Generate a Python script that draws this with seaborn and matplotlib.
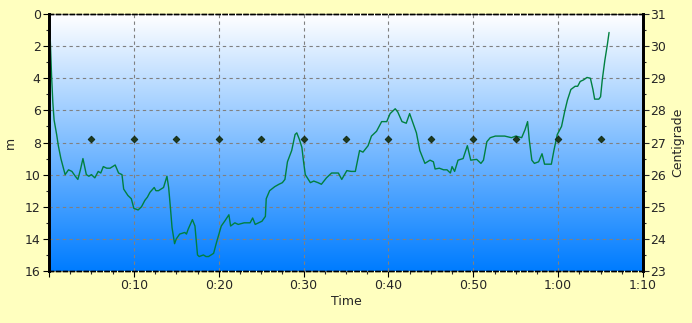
import numpy as np
import pandas as pd
import matplotlib
matplotlib.use("Agg")
import matplotlib.pyplot as plt
import seaborn as sns
from matplotlib.ticker import MultipleLocator

# ---- data ----
time_min = [0.0, 0.15, 0.3, 0.45, 0.6, 0.9, 1.1, 1.4, 1.9, 2.3, 2.7, 3.1, 3.4, 3.7, 4.0, 4.2, 4.4, 4.7,
            5.0, 5.4, 5.8, 6.1, 6.4, 6.8, 7.2, 7.5, 7.8, 8.2, 8.6, 8.8, 9.3, 9.7, 10.0, 10.5, 10.9, 11.3,
            11.6, 11.9, 12.4, 12.6, 12.9, 13.2, 13.5, 13.9, 14.1, 14.3, 14.5, 14.8, 15.0, 15.4, 16.0, 16.2,
            16.4, 16.9, 17.2, 17.5, 17.7, 18.2, 18.5, 18.8, 19.4, 19.7, 20.3, 20.7, 21.2, 21.4, 21.9, 22.3,
            23.0, 23.7, 24.0, 24.3, 25.1, 25.5, 25.6, 26.0, 26.6, 27.1, 27.5, 27.8, 28.1, 28.6, 29.0, 29.2,
            29.5, 29.8, 30.0, 30.2, 30.8, 31.2, 31.7, 32.1, 32.7, 33.3, 34.1, 34.5, 35.1, 35.6, 36.1, 36.6,
            37.0, 37.6, 38.0, 38.6, 39.2, 39.8, 40.2, 40.8, 41.1, 41.6, 42.1, 42.5, 42.9, 43.3, 43.7, 44.3,
            44.9, 45.3, 45.5, 46.0, 46.5, 46.9, 47.3, 47.5, 47.8, 48.2, 48.8, 49.3, 49.7, 50.4, 50.9, 51.2,
            51.6, 52.0, 52.6, 53.7, 54.5, 55.0, 55.7, 56.1, 56.4, 56.6, 56.9, 57.2, 57.7, 58.1, 58.4, 59.2,
            59.5, 59.9, 60.4, 60.8, 61.1, 61.5, 62.0, 62.3, 62.6, 63.0, 63.4, 63.8, 64.1, 64.3, 64.8, 65.0,
            65.2, 65.5, 65.8, 66.0]
depth_m = [1.5, 1.6, 3.8, 5.5, 6.6, 7.5, 8.2, 9.0, 10.0, 9.7, 9.8, 10.1, 10.3, 9.7, 9.0, 9.5, 10.0, 10.1,
           10.0, 10.2, 9.8, 9.9, 9.5, 9.6, 9.6, 9.5, 9.4, 9.9, 10.0, 10.9, 11.3, 11.5, 12.1, 12.2, 12.0, 11.6,
           11.4, 11.1, 10.8, 11.0, 11.0, 10.9, 10.8, 10.1, 10.8, 12.0, 13.3, 14.3, 14.0, 13.7, 13.6, 13.7,
           13.4, 12.8, 13.2, 15.0, 15.1, 15.0, 15.1, 15.1, 14.9, 14.3, 13.2, 12.9, 12.5, 13.2, 13.0, 13.1,
           13.0, 13.0, 12.7, 13.1, 12.9, 12.6, 11.5, 11.0, 10.75, 10.6, 10.5, 10.3, 9.2, 8.5, 7.5, 7.4,
           7.8, 8.3, 9.2, 10.0, 10.5, 10.4, 10.5, 10.6, 10.2, 9.9, 9.9, 10.3, 9.75, 9.8, 9.8, 8.5,
           8.6, 8.2, 7.6, 7.3, 6.7, 6.7, 6.2, 5.9, 6.1, 6.7, 6.8, 6.2, 6.8, 7.4, 8.5, 9.3,
           9.1, 9.2, 9.65, 9.6, 9.7, 9.7, 9.9, 9.5, 9.8, 9.1, 9.0, 8.2, 9.1, 9.05, 9.3, 9.1,
           7.95, 7.7, 7.6, 7.6, 7.7, 7.6, 7.7, 7.2, 6.7, 7.85, 9.1, 9.3, 9.2, 8.7, 9.35, 9.35,
           8.5, 7.5, 7.0, 6.0, 5.35, 4.7, 4.5, 4.5, 4.2, 4.1, 3.95, 4.0, 4.7, 5.3, 5.3, 5.15,
           4.1, 2.9, 1.9, 1.15]
temp_time_min = [5, 10, 15, 20, 25, 30, 35, 40, 45, 50, 55, 60, 65]
temp_c = [27.1, 27.1, 27.1, 27.1, 27.1, 27.1, 27.1, 27.1, 27.1, 27.1, 27.1, 27.1, 27.1]
x_ticks = [0, 10, 20, 30, 40, 50, 60, 70]
x_tick_labels = ["", "0:10", "0:20", "0:30", "0:40", "0:50", "1:00", "1:10"]
depth_ticks = [0, 2, 4, 6, 8, 10, 12, 14, 16]
temp_ticks = [23, 24, 25, 26, 27, 28, 29, 30, 31]

depth_df = pd.DataFrame({"time": time_min, "depth": depth_m})
temp_df = pd.DataFrame({"time": temp_time_min, "temp": temp_c})

sns.set_style("white")
plt.rcParams["font.family"] = ["DejaVu Sans"]
bg = "#FFFFBF"

fig = plt.figure(figsize=(6.92, 3.23), dpi=100, facecolor=bg)
ax = fig.add_axes([49 / 692, 1 - 271 / 323, (643 - 49) / 692, (271 - 14) / 323])

# gradient background
grad = np.linspace(0, 1, 256).reshape(-1, 1)
cmap = matplotlib.colors.LinearSegmentedColormap.from_list("g", ["#FFFFFF", "#007CFF"])
ax.imshow(grad, extent=[0, 70, 16, 0], aspect="auto", cmap=cmap, zorder=0, interpolation="bilinear")

sns.lineplot(data=depth_df, x="time", y="depth", ax=ax, color="#008040", linewidth=1.0,
             sort=False, estimator=None, zorder=3)
ax.set_xlim(0, 70)
ax.set_ylim(16, 0)
ax.set_xticks(x_ticks)
ax.set_xticklabels(x_tick_labels)
ax.set_yticks(depth_ticks)
ax.xaxis.set_minor_locator(MultipleLocator(2.5))
ax.yaxis.set_minor_locator(MultipleLocator(1))
ax.grid(True, which="major", color="#808080", linestyle=(0, (3, 3)), linewidth=0.8, zorder=1)
ax.set_axisbelow(False)
ax.set_xlabel("Time", fontsize=9, labelpad=2)
ax.set_ylabel("m", fontsize=9, labelpad=6)
ax.tick_params(axis="both", which="major", direction="out", length=4, width=0.8, labelsize=9,
               color="black", pad=2, left=True, bottom=True)
ax.tick_params(axis="both", which="minor", direction="out", length=2, width=0.8, left=True, bottom=True)

ax2 = ax.twinx()
sns.scatterplot(data=temp_df, x="time", y="temp", ax=ax2, marker="D", s=12, color="#1E3A1E",
                edgecolor="#0A200A", linewidth=0.5, zorder=4)
ax2.set_ylim(23, 31)
ax2.set_yticks(temp_ticks)
ax2.yaxis.set_minor_locator(MultipleLocator(0.5))
ax2.set_ylabel("Centigrade", fontsize=9, labelpad=4)
ax2.tick_params(axis="y", which="major", direction="out", length=4, width=0.8, labelsize=9, pad=1, right=True)
ax2.tick_params(axis="y", which="minor", direction="out", length=2, width=0.8, right=True)
ax2.set_xlim(0, 70)
ax2.grid(False)

for a in (ax, ax2):
    a.spines["left"].set_linewidth(2.0)
    a.spines["right"].set_linewidth(2.0)
    a.spines["top"].set_linestyle((0, (3, 2)))
    a.spines["top"].set_linewidth(1.0)
    a.spines["bottom"].set_linestyle((0, (3, 2)))
    a.spines["bottom"].set_linewidth(1.0)
    for s in a.spines.values():
        s.set_color("black")
        s.set_visible(True)

fig.savefig("out.png", dpi=100, facecolor=bg)
